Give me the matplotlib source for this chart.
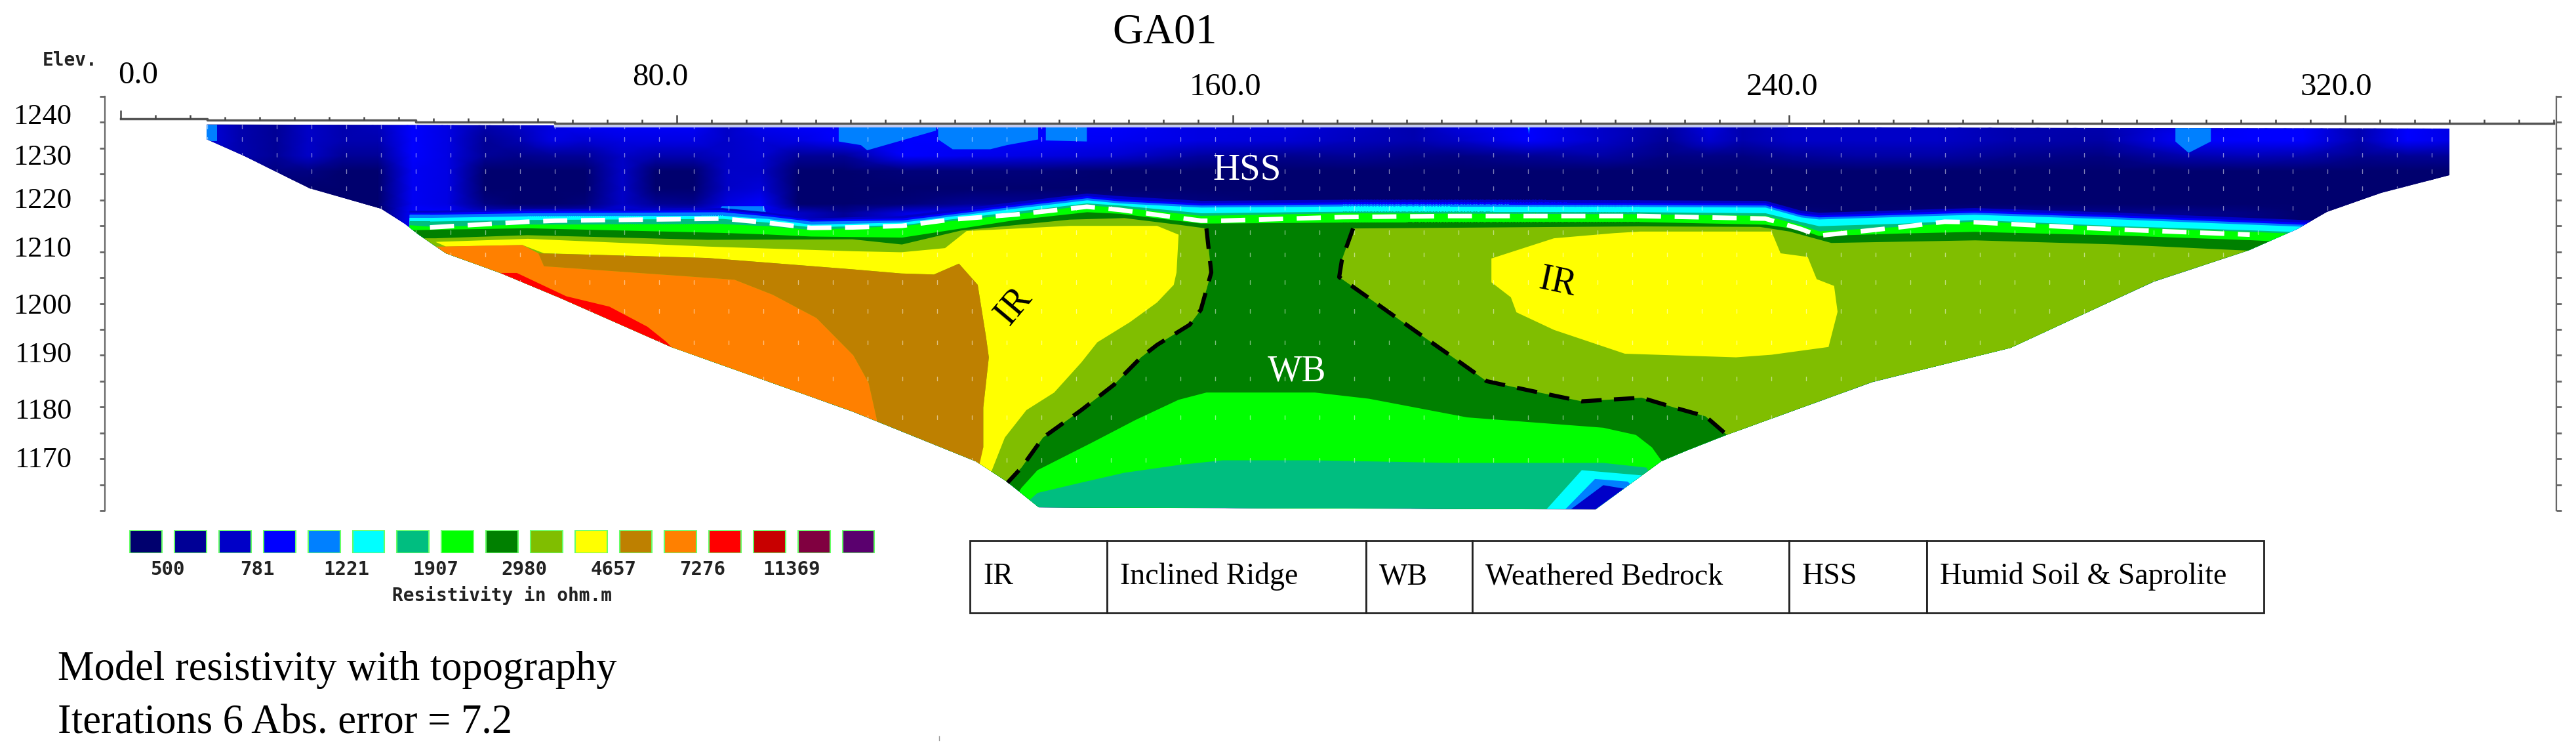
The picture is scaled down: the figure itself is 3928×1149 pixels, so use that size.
import numpy as np
import matplotlib
matplotlib.use('Agg')
import matplotlib.pyplot as plt
from matplotlib.colors import LinearSegmentedColormap
from matplotlib.patches import Polygon

W, H = 3928, 1149
plt.rcParams['font.family'] = ['Liberation Serif', 'DejaVu Serif']

# colour scale of the section
palette = ['#00006e', '#000096', '#0000c8', '#0000ff', '#0080ff', '#00ffff',
           '#00be80', '#00ff00', '#008000', '#80be00', '#ffff00', '#be8000',
           '#ff8000', '#ff0000', '#c80000', '#800040', '#5a006e']
legend_values = ['500', '781', '1221', '1907', '2980', '4657', '7276', '11369']

xtick_labels = ['0.0', '80.0', '160.0', '240.0', '320.0']
ytick_labels = ['1240', '1230', '1220', '1210', '1200', '1190', '1180', '1170']

# section outline, distance (m) / elevation (m)
outline_d = [12.4, 12.4, 17.8, 27.2, 37.5, 40.9, 42.9, 46.8, 54.6, 63.2, 79.3, 105.3, 123.0, 127.4,
             132.1, 212.2, 221.6, 225.2, 231.0, 252.0, 271.9, 292.5, 306.2, 313.1, 317.4, 325.2,
             335.0, 335.0, 240.0, 62.5, 12.4]
outline_e = [1234.6, 1231.7, 1228.5, 1222.3, 1218.3, 1215.4, 1213.3, 1209.7, 1205.9, 1201.1, 1191.6,
             1179.1, 1169.5, 1165.7, 1160.6, 1160.2, 1169.5, 1171.6, 1174.6, 1184.8, 1191.5, 1204.2,
             1210.3, 1214.4, 1217.7, 1221.4, 1224.8, 1233.8, 1234.0, 1234.4, 1234.6]

# surface line drawn above the section
axis_d = [0, 12.5, 12.5, 42.5, 42.5, 62.5, 62.5, 350]
axis_e = [1235.7, 1235.7, 1235.4, 1235.4, 1235.1, 1235.1, 1234.85, 1234.85]

# soft blue top layer: level on the navy-to-blue part of the scale, one list per distance
blue_rows = [1235, 1231.5, 1228.5, 1225.6, 1222.2, 1219.2, 1217.5, 1210]
blue_d = [12, 17, 22.3, 27, 32, 37, 42, 47, 52.4, 57.2, 62, 66.8, 72.2, 77, 82.4, 87.3, 92, 97.5, 104, 113,
          122, 131, 143, 155, 167, 177.3, 186, 192.4, 202.6, 213.4, 222.4, 228.5, 233.3, 240.5, 249.5,
          261.5, 272, 285, 297, 306, 314, 322, 329, 336]
blue_levels = [
    [2.5, 2.5, 2, 1, 0, 0, 0, 0], [1.5, 1.5, 1.5, 1, .5, 0, 0, 0], [1, 1, 1, .5, 0, 0, 0, 0],
    [2, 2, 2, .5, 0, 0, 0, 0], [1.5, 1.5, 1, 0, 0, 0, 0, 0], [1.8, 1.5, 1, 0, 0, 0, 0, 0],
    [3, 3, 3, 2.8, 2.8, 2.8, 3, 3], [2.5, 2.5, 2.5, 2.5, 2.5, 2.5, 3, 3], [1.5, 1, 1, 0, 0, .5, 2, 2],
    [2, 1.5, .7, 0, 0, 0, 2, 2], [2.5, 2.5, 1, 0, 0, 0, 2, 2], [3, 2.2, 1, 0, 0, .3, 2, 2],
    [3, 2.5, 2, 2, 2, 2, 2.5, 2.5], [3, 2.5, 1.5, 0, 0, 1, 2.5, 2.5], [3, 2.5, 1.5, 0, 0, .8, 2.5, 2.5],
    [2, 2, 2, 2, 2, 2.5, 3, 3], [2.8, 2.3, 2.2, 2, 2.3, 3, 3, 3], [3, 2.5, 1, 0, 0, 0, 2, 2],
    [3, 3, 1, 0, 0, 0, 1, 1], [3, 3, 3, .3, 0, .3, 2.5, 2.5], [3, 3, 2.7, .3, 0, 1, 3, 3],
    [3, 3, 2.5, .3, 0, 1, 3, 3], [3, 2.8, 2.2, 0, 0, 1, 3, 3], [2.5, 2.5, 1.2, 0, 0, .5, 3, 3],
    [2.5, 2.3, .8, 0, 0, 0, 2.5, 2.5], [2, 1.8, 1, 0, 0, 0, 1.5, 1.5], [1.5, 1.5, .6, 0, 0, 0, 1.5, 1.5],
    [2.5, 2, .5, 0, 0, 0, 1.5, 1.5], [3, 3, 1, 0, 0, 0, 1.5, 1.5], [2, 2, 1.3, 0, 0, 0, 1.5, 1.5],
    [1.3, 1, .5, 0, 0, 0, 1.5, 1.5], [2.5, 2.2, .6, 0, 0, 0, 1.5, 1.5], [1.5, 1.5, .5, 0, 0, 0, 1.5, 1.5],
    [2, 2, 1, 0, 0, 0, .5, .5], [2, 2, 1.3, 0, 0, 0, 0, 0], [2, 2, 1.3, 0, 0, 0, .5, .5],
    [1.5, 1.5, .8, 0, 0, 0, 1, 1], [1.5, 1.3, .5, 0, 0, 0, .8, .8], [2.5, 3, 1.5, 0, 0, 0, .8, .8],
    [3, 3, 1.7, 0, 0, 0, .5, .5], [3, 3, 1.5, 0, 0, 0, 0, 0], [1.5, 1.5, .8, 0, 0, 0, 0, 0],
    [3, 3, 1, 0, 0, 0, 0, 0], [2.5, 2.5, 1, 0, 0, 0, 0, 0],
]

# layered bands along the interface
band_d = [41.5, 44.5, 58.5, 86.6, 93, 99.3, 112.4, 128.8, 139, 143.7, 155.4, 175.8, 218.6, 236.6,
          241.7, 244.3, 256.4, 266.7, 287.4, 306.3, 340]
top_blue2 = [1218, 1218, 1218.3, 1218.5, 1217.7, 1216.5, 1217, 1219.7, 1221.3, 1220.8, 1219.9, 1220.1,
             1220, 1219.9, 1218, 1217.6, 1218.1, 1218.5, 1217.6, 1216.6, 1214.8]
top_blue3 = [1217.6, 1217.6, 1217.9, 1218.1, 1217.3, 1216.2, 1216.5, 1219.2, 1220.8, 1220.2, 1219.4,
             1219.6, 1219.5, 1219.4, 1217.5, 1217.1, 1217.6, 1218, 1217.1, 1216.1, 1214.3]
top_light = [1217.2, 1217.2, 1217.5, 1217.7, 1216.9, 1215.9, 1216.1, 1218.8, 1220.4, 1219.8, 1219,
             1219.2, 1219.1, 1219, 1217.1, 1216.7, 1217.2, 1217.6, 1216.7, 1215.7, 1213.9]
top_cyan = [1216.6, 1216.6, 1216.9, 1217, 1216.4, 1215.3, 1215.7, 1218.4, 1220, 1219.4, 1218.6, 1218.8,
            1218.7, 1218.6, 1216.7, 1216.3, 1216.8, 1217.2, 1216.3, 1215.3, 1213.5]
top_teal = [1215.9, 1215.9, 1216.2, 1216.4, 1215.7, 1214.8, 1215.2, 1217.8, 1219.4, 1219, 1217.5, 1217.8,
            1217.7, 1217.5, 1215.8, 1215, 1215.5, 1216.2, 1215, 1214.2, 1212.5]
top_green = [1215.2, 1214.9, 1215.3, 1215.4, 1215, 1214.3, 1215, 1217.3, 1219, 1218.6, 1217, 1217.5,
             1217.3, 1217, 1215.2, 1214, 1214.9, 1215.9, 1214.8, 1213.9, 1212]
top_dark = [1214.2, 1214.3, 1214.6, 1213.7, 1213.4, 1213, 1212.8, 1216.2, 1217.7, 1217.4, 1215.5, 1215.7,
            1215.8, 1215.3, 1214.3, 1213.1, 1213.6, 1213.9, 1213.2, 1212.3, 1210]

# dashed interpretation lines
white_d = [44.5, 58.5, 62.5, 86.6, 93.0, 99.3, 105.3, 112.4, 119.4, 128.8, 139.0, 143.7, 155.4, 158.5,
           175.8, 191.4, 218.6, 236.6, 241.7, 244.3, 256.4, 262.4, 266.7, 287.4, 306.3]
white_e = [1214.7, 1215.8, 1216.0, 1216.4, 1215.6, 1214.6, 1214.7, 1215.0, 1216.2, 1217.2, 1218.7, 1218.1,
           1216.0, 1216.0, 1216.7, 1216.9, 1216.9, 1216.4, 1214.4, 1213.1, 1214.8, 1215.8, 1215.7, 1214.3,
           1213.3]
wb_left_d = [156.2, 156.9, 155.4, 153.8, 149.1, 146.8, 142.9, 138.2, 132.7, 129.6, 127.6]
wb_left_e = [1214.5, 1206.0, 1198.8, 1195.9, 1192.0, 1189.6, 1184.3, 1179.4, 1174.1, 1168.3, 1165.4]
wb_right_d = [177.3, 175.7, 175.3, 178.9, 183.5, 187.5, 192.2, 196.5, 202.3, 210.2, 218.8, 223.5, 228.0, 231.1]
wb_right_e = [1214.5, 1208.5, 1205.1, 1201.7, 1197.3, 1193.5, 1189.1, 1185.0, 1183.3, 1181.1, 1181.8, 1179.9,
              1178.2, 1174.6]

# resistivity zones as (distance, elevation) outlines
olive_left_top_d = [40, 45.3, 58.5, 84.4, 105.3, 112.4, 120.9, 136.5, 144.4, 152.3]
olive_left_top_e = [1212.6, 1212.6, 1213.2, 1212.3, 1212.4, 1211.4, 1214.1, 1216.2, 1216.5, 1215.2]
olive_right_top_d = [218.6, 235.8, 240.1, 246.1, 266.8, 287.4, 306.3, 320, 320]
olive_right_top_e = [1214.9, 1214.8, 1213.9, 1211.7, 1212.2, 1211.4, 1210.2, 1205, 1170]

yellow_left_d = [45.3, 58.6, 84.4, 105.4, 112.3, 118.6, 121.7, 136.6, 149.1, 152.2, 151.9, 151.5, 149.1, 145.2,
                 140.5, 138.2, 134.3, 130.3, 127.2, 125.2, 122.9, 124.1, 124.1, 124.9, 124.5, 123.3, 120.6,
                 117.0, 112.3, 105.3, 84.4, 60.9, 57.8, 46.8]
yellow_left_e = [1211.9, 1212.5, 1211.0, 1210.1, 1209.9, 1210.7, 1214.0, 1215.0, 1215.0, 1213.3, 1206.0, 1203.6,
                 1200.2, 1196.4, 1192.5, 1188.6, 1182.8, 1179.4, 1174.1, 1167.3, 1169.2, 1172.2, 1179.9, 1189.6,
                 1193.5, 1203.6, 1207.7, 1205.6, 1205.8, 1206.6, 1208.8, 1209.7, 1211.3, 1211.0]
brown_d = [60.1, 84.4, 105.3, 112.3, 117.0, 120.6, 123.3, 124.5, 124.9, 124.1, 124.1, 122.9, 108.8, 108.8, 107.6,
           105.4, 100.1, 93.8, 88.3, 60.9]
brown_e = [1209.7, 1208.8, 1206.6, 1205.8, 1205.6, 1207.7, 1203.6, 1193.5, 1189.6, 1179.9, 1172.2, 1165, 1165,
           1177.5, 1184.7, 1190.0, 1197.2, 1201.7, 1204.6, 1207.2]
orange_d = [42, 46, 57.8, 60.1, 60.9, 88.3, 93.8, 100.1, 105.4, 107.6, 108.8, 108.8, 42]
orange_e = [1211, 1211, 1211.3, 1209.7, 1207.2, 1204.6, 1201.7, 1197.2, 1190.0, 1184.7, 1177.5, 1168, 1168]
red_d = [54.7, 57.0, 64.1, 70.3, 75.8, 78.5, 79.3, 79.3, 54.7]
red_e = [1205.9, 1205.9, 1201.4, 1199.4, 1195.5, 1192.6, 1191.5, 1190, 1204]

yellow_right_d = [197.2, 197.2, 200.0, 200.8, 206.2, 216.4, 232.4, 237.5, 245.7, 247.0, 246.5, 244.0, 242.7, 238.8,
                  237.5, 218.6, 214.9, 206.2]
yellow_right_e = [1208.7, 1204.1, 1201.2, 1198.3, 1194.9, 1190.3, 1189.6, 1190.1, 1191.6, 1198.4, 1203.4, 1204.7,
                  1209.0, 1209.7, 1213.9, 1213.9, 1213.6, 1212.6]

green_low_d = [129.6, 131.9, 139.7, 146.0, 152.2, 156.2, 171.8, 179.6, 193.7, 213.3, 218.0, 220.3, 221.9, 225, 215, 125]
green_low_e = [1164.4, 1167.8, 1173.1, 1177.5, 1181.4, 1182.8, 1182.8, 1181.6, 1178.0, 1176.0, 1174.6, 1172.2, 1169.2,
               1165, 1155, 1155]
teal_low_d = [131.9, 138.2, 144.4, 152.2, 158.5, 171.8, 191.4, 213.3, 219.5, 225, 125]
teal_low_e = [1163.4, 1165.4, 1167.3, 1168.8, 1169.7, 1169.7, 1169.2, 1169.2, 1168.3, 1155, 1155]
cyan_low_d = [205.1, 210.2, 218.8, 225, 205.1]
cyan_low_e = [1160.2, 1167.8, 1166.8, 1155, 1155]
light_low_d = [207.8, 212.1, 216.8, 225, 207.8]
light_low_e = [1160.2, 1166.1, 1165.6, 1155, 1155]
blue_low_d = [208.6, 213.3, 216.4, 225, 208.6]
blue_low_e = [1160.2, 1164.9, 1164.2, 1155, 1155]

light_patches = [
    ([12.4, 13.9, 13.9, 12.4], [1236, 1236, 1231.4, 1231.4]),
    ([103.3, 103.3, 106.5, 107.4, 117.3, 117.3], [1236, 1231.3, 1230.6, 1229.6, 1233.4, 1236]),
    ([117.6, 117.6, 119.7, 125.1, 127.5, 132, 132], [1236, 1231.7, 1229.8, 1229.8, 1230.6, 1231.7, 1236]),
    ([133.1, 133.1, 139, 139], [1236, 1231.5, 1231.3, 1236]),
    ([202.2, 202.6, 203], [1236, 1232.6, 1236]),
    ([295.6, 295.6, 297.5, 300.7, 300.7], [1236, 1231.3, 1229.1, 1231.3, 1236]),
    ([85, 86.5, 92.5, 93.3], [1216, 1218.8, 1218.8, 1216]),
]

# model mesh rows
mesh_rows = [1234.2, 1231.7, 1228.7, 1225.6, 1222.2, 1218.4, 1213.8, 1209.5, 1204.1, 1198.5, 1192.5, 1185.5, 1178,
             1169.7]


def px_axes(x0, y0, x1, y1):
    return fig.add_axes([x0 / W, 1 - y1 / H, (x1 - x0) / W, (y1 - y0) / H])


def px_text(x, y, s, **kw):
    fig.text(x / W, 1 - y / H, s, **kw)


fig = plt.figure(figsize=(W / 100, H / 100), dpi=100, facecolor='white')

ax = px_axes(160, 147, 3898, 778)
ax.set_xlim(-2.26, 350.4)
ax.set_ylim(1160, 1240)

section = Polygon(np.column_stack([outline_d, outline_e]), closed=True, fc=palette[0], ec='none', zorder=1)
ax.add_patch(section)


def zone(d, e, colour, z):
    p = ax.fill(d, e, color=colour, lw=0, zorder=z)[0]
    p.set_clip_path(section)


# soft top layer
blue_cmap = LinearSegmentedColormap.from_list('blues_top', palette[:4])
soft = ax.pcolormesh(blue_d, blue_rows, np.array(blue_levels).T, shading='gouraud', cmap=blue_cmap,
                     vmin=0, vmax=3, zorder=2)
soft.set_clip_path(section)
for d, e in light_patches:
    zone(d, e, palette[4], 2.4)

bands = [(top_blue2, palette[2]), (top_blue3, palette[3]), (top_light, palette[4]), (top_cyan, palette[5]),
         (top_teal, palette[6]), (top_green, palette[7]), (top_dark, palette[8])]
for i, (top, colour) in enumerate(bands):
    b = ax.fill_between(band_d, top, 1155, color=colour, lw=0, zorder=3 + i * 0.1)
    b.set_clip_path(section)

zone(olive_left_top_d + wb_left_d + [127.6, 40], olive_left_top_e + wb_left_e + [1158, 1158], palette[9], 4)
zone(wb_right_d + olive_right_top_d[::-1] + [218.6],
     wb_right_e + olive_right_top_e[::-1] + [1214.9], palette[9], 4)
zone(yellow_left_d, yellow_left_e, palette[10], 4.2)
zone(brown_d, brown_e, palette[11], 4.3)
zone(orange_d, orange_e, palette[12], 4.4)
zone(red_d, red_e, palette[13], 4.5)
zone(yellow_right_d, yellow_right_e, palette[10], 4.2)
zone(green_low_d, green_low_e, palette[7], 4.2)
zone(teal_low_d, teal_low_e, palette[6], 4.3)
zone(cyan_low_d, cyan_low_e, palette[5], 4.4)
zone(light_low_d, light_low_e, palette[4], 4.5)
zone(blue_low_d, blue_low_e, palette[2], 4.6)

# mesh points
mesh_x, mesh_y = np.meshgrid(np.arange(2.5, 340, 5), mesh_rows)
pts = ax.scatter(mesh_x.ravel(), mesh_y.ravel(), s=14, marker='|', color='white', alpha=0.5, lw=1, zorder=5)
pts.set_clip_path(section)

ax.plot(white_d, white_e, color='white', lw=5, dashes=(5.3, 3), zorder=6)
ax.plot(wb_left_d, wb_left_e, color='black', lw=4.5, dashes=(5, 3), zorder=6)
ax.plot(wb_right_d, wb_right_e, color='black', lw=4.5, dashes=(5, 3), zorder=6)

# pale strip under the top line
ax.plot([62.5, 239.6], [1234.3, 1234.3], color='#c4cbf2', lw=2.5, zorder=6)

# top axis line and its ticks
ax.plot(axis_d, axis_e, color='#555555', lw=2.5, zorder=7)
tick_d = np.arange(0, 351, 5)
tick_base = np.interp(tick_d, [0, 12.4, 12.6, 42.4, 42.6, 62.4, 62.6, 350], axis_e)
tick_len = np.where(tick_d % 80 == 0, 1.6, 0.7)
ax.vlines(tick_d, tick_base, tick_base + tick_len, color='#444444', lw=1.8, zorder=7)

for s in ['top', 'bottom']:
    ax.spines[s].set_visible(False)
for s in ['left', 'right']:
    ax.spines[s].set_color('#666666')
    ax.spines[s].set_linewidth(1.6)
ax.set_xticks([])
ax.set_yticks(np.arange(1160, 1241, 5))
ax.tick_params(axis='y', left=True, right=True, labelleft=False, length=6, width=2, color='#666666')

# labels inside the section
ax.text(162, 1225.8, 'HSS', color='white', fontsize=41, ha='center', va='center', zorder=8)
ax.text(169.2, 1186.8, 'WB', color='white', fontsize=40, ha='center', va='center', zorder=8)
ax.text(128.5, 1199.5, 'IR', color='black', fontsize=40, rotation=50, ha='center', va='center', zorder=8)
ax.text(206.7, 1204, 'IR', color='black', fontsize=40, rotation=-12, ha='center', va='center', zorder=8)

# hand placed axis labels
px_text(1776, 50, 'GA01', fontsize=47, ha='center', va='center')
for x, y, s in zip([211, 1007, 1869, 2718, 3562], [115, 118, 133, 133, 133], xtick_labels):
    px_text(x, y, s, fontsize=35, ha='center', va='center')
for y, s in zip([178, 240, 306, 380, 467, 541, 627, 701], ytick_labels):
    px_text(109, y, s, fontsize=32, ha='right', va='center')
px_text(65, 92, 'Elev.', fontsize=20, family='DejaVu Sans Mono', weight='bold', ha='left', va='center', color='#222222')

# colour legend
leg = px_axes(188.5, 808, 1343, 843)
leg.bar(np.arange(17) + 0.5, 1, width=0.72, color=palette, edgecolor='#66ff66', linewidth=1.5)
leg.set_xlim(0, 17)
leg.set_ylim(0, 1)
for s in leg.spines.values():
    s.set_visible(False)
leg.set_yticks([])
leg.set_xticks(np.arange(1, 16, 2))
leg.set_xticklabels(legend_values, fontsize=21, family='DejaVu Sans Mono', weight='bold', color='#222222')
leg.tick_params(axis='x', length=0, pad=8)
leg.set_xlabel('Resistivity in ohm.m', fontsize=20, family='DejaVu Sans Mono', weight='bold', color='#222222',
               labelpad=8)

# abbreviations table
tab_edges = [1479, 1688, 2083, 2245, 2728, 2938, 3452]
tab_text = ['IR', 'Inclined Ridge', 'WB', 'Weathered Bedrock', 'HSS', 'Humid Soil & Saprolite']
tax = px_axes(tab_edges[0], 824, tab_edges[-1], 934)
tax.axis('off')
widths = np.diff(tab_edges)
tbl = tax.table(cellText=[tab_text], colWidths=list(widths / widths.sum()), cellLoc='left', bbox=[0, 0, 1, 1])
tbl.auto_set_font_size(False)
for (r, c), cell in tbl.get_celld().items():
    cell.PAD = 20 / widths[c]
    cell.set_linewidth(2)
    cell.set_edgecolor('#222222')
    cell.set_text_props(fontsize=33)

# run summary
px_text(88, 1036, 'Model resistivity with topography', fontsize=45, ha='left', va='baseline')
px_text(88, 1117, 'Iterations 6 Abs. error = 7.2', fontsize=45, ha='left', va='baseline')

# stray scan mark near the lower edge
fig.add_artist(plt.Line2D([1432 / W, 1432 / W], [1 - 1122 / H, 1 - 1128 / H], color='#999999', lw=1))

fig.savefig('out.png', dpi=100)
